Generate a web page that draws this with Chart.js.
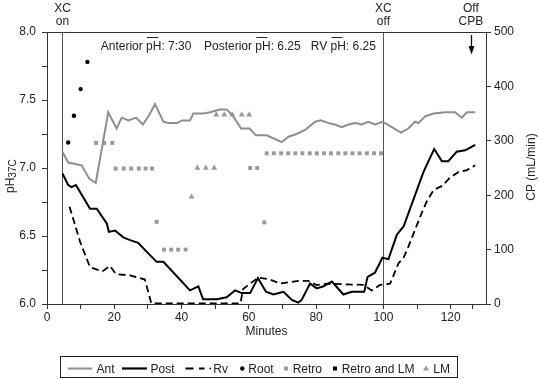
<!DOCTYPE html>
<html><head><meta charset="utf-8">
<script src="https://cdn.jsdelivr.net/npm/chart.js@4.4.0/dist/chart.umd.min.js"></script>
<style>html,body{margin:0;padding:0;background:#fff}#wrap{width:538px;height:379px}</style>
</head><body><div id="wrap"><canvas id="c" width="538" height="379"></canvas></div>
<script>
// ---- data (minutes, pH) ----
const antTimes = [4.6, 6.3, 10.3, 12.6, 14.5, 18.2, 20.7, 22.2, 24.2, 26.5, 28.5, 30.4, 32.1, 34.6, 36.1, 38.6, 40.1, 42.5, 43.5, 46.5, 48.5, 51.4, 53.4, 55.1, 57.7, 60.2, 62.1, 65.3, 69.8, 71.8, 74.2, 76.7, 79.7, 81.4, 83.7, 85.6, 87.6, 89.6, 91.6, 93.6, 95.5, 97.5, 99.8, 102.5, 105.2, 107.4, 109.4, 110.4, 112.4, 114.9, 118.3, 121.3, 123.3, 124.8, 127.3];
const antPH = [7.12, 7.04, 7.02, 6.92, 6.89, 7.41, 7.29, 7.37, 7.35, 7.37, 7.32, 7.39, 7.47, 7.34, 7.33, 7.33, 7.35, 7.35, 7.40, 7.40, 7.41, 7.43, 7.43, 7.39, 7.29, 7.29, 7.24, 7.24, 7.19, 7.23, 7.25, 7.28, 7.34, 7.35, 7.33, 7.32, 7.30, 7.32, 7.33, 7.32, 7.34, 7.32, 7.34, 7.30, 7.26, 7.29, 7.34, 7.33, 7.38, 7.40, 7.41, 7.41, 7.37, 7.41, 7.41];

const postTimes = [4.6, 6.3, 7.3, 8.6, 12.8, 14.8, 17.8, 18.4, 20.2, 22.7, 24.7, 27.1, 29.6, 32.6, 34.6, 39.5, 42.5, 45, 46.4, 50.5, 53.4, 55.9, 57.9, 60.4, 62.7, 65.1, 67.3, 70.3, 72.8, 74.7, 75.7, 78.2, 80.2, 82.2, 84.7, 88.1, 90.6, 94.3, 95.3, 97.5, 99.7, 101.5, 104, 106, 111.9, 113.4, 115.1, 117.4, 119.3, 121.8, 124.3, 127.3];
const postPH = [6.96, 6.875, 6.86, 6.875, 6.70, 6.70, 6.59, 6.53, 6.54, 6.49, 6.47, 6.45, 6.385, 6.31, 6.31, 6.18, 6.10, 6.13, 6.035, 6.035, 6.05, 6.10, 6.08, 6.08, 6.19, 6.09, 6.07, 6.09, 6.03, 6.01, 6.03, 6.15, 6.115, 6.13, 6.165, 6.07, 6.09, 6.09, 6.20, 6.23, 6.34, 6.33, 6.51, 6.57, 6.97, 7.05, 7.14, 7.05, 7.05, 7.12, 7.13, 7.17];

const rvTimes = [6.7, 9.8, 12.8, 16.5, 18.7, 20.5, 24.7, 29.1, 31.0, 45, 57.5, 58.3, 62.8, 66.3, 69.3, 74.7, 77.7, 80.2, 83.2, 94.1, 96.5, 99, 102, 104.5, 106, 107.4, 111.4, 113, 115, 117.6, 119.8, 122.3, 124.8, 127.3];
const rvPH = [6.715, 6.46, 6.27, 6.24, 6.28, 6.22, 6.21, 6.18, 6.005, 6.005, 6.005, 6.11, 6.195, 6.18, 6.15, 6.17, 6.17, 6.14, 6.15, 6.14, 6.10, 6.14, 6.15, 6.30, 6.34, 6.42, 6.67, 6.76, 6.84, 6.87, 6.93, 6.97, 6.985, 7.02];

// ---- data (minutes, CP mL/min) ----
const rootTimes = [6.3, 8.0, 10.0, 12.0];
const rootCP = [297, 346, 395, 445];

const retroTimes = [14.6, 17.0, 19.4, 20.4, 22.8, 25.0, 27.3, 29.3, 31.2, 32.6, 34.8, 36.9, 39.0, 41.2, 60.4, 62.5, 64.6, 65.3, 67.4, 69.6, 71.7, 73.8, 75.9, 78.1, 80.2, 82.3, 84.4, 86.6, 88.7, 90.8, 92.9, 95.1, 97.2, 99.3];
const retroCP = [296, 296, 296, 249, 249, 249, 249, 249, 249, 151, 100, 100, 100, 100, 250, 250, 150, 277, 277, 277, 277, 277, 277, 277, 277, 277, 277, 277, 277, 277, 277, 277, 277, 277];

const retroLMTimes = [];
const retroLMCP = [];

const lmTimes = [43.0, 44.7, 47.2, 49.7, 50.3, 52.7, 55.1, 57.9, 60.1];
const lmCP = [197, 250, 250, 250, 348, 348, 348, 348, 348];

// ---- axes / annotations ----
const xTickValues = [0, 10, 20, 30, 40, 50, 60, 70, 80, 90, 100, 110, 120, 126.5];
const xTickLabels = ['0', '', '20', '', '40', '', '60', '', '80', '', '100', '', '120', ''];
const yTickValues = [6.0, 6.25, 6.5, 6.75, 7.0, 7.25, 7.5, 7.75, 8.0];
const yTickLabels = ['6.0', '', '6.5', '', '7.0', '', '7.5', '', '8.0'];
const y2TickValues = [0, 100, 200, 300, 400, 500];
const y2TickLabels = ['0', '100', '200', '300', '400', '500'];

const eventTimes = [4.6, 100, 126];
const eventLabels = [['XC', 'on'], ['XC', 'off'], ['Off', 'CPB']];
const meanLabels = [['Anterior ', 'pH', ': 7:30'], ['Posterior ', 'pH', ': 6.25'], ['RV ', 'pH', ': 6.25']];

const FONT = "'Liberation Sans', Arial, Helvetica, sans-serif";
Chart.defaults.font.family = FONT;
Chart.defaults.font.size = 12;
Chart.defaults.color = '#222';

const zip = (xs, ys) => xs.map((x, i) => ({x, y: ys[i]}));
const GRAY_LINE = '#8e8e8e';
const GRAY_PT = '#9a9a9a';

const overlay = {
  id: 'overlay',
  beforeDatasetsDraw(chart) {
    const {ctx, chartArea: a, scales: {x}} = chart;
    ctx.save();
    ctx.strokeStyle = '#555';
    ctx.lineWidth = 1;
    for (let i = 0; i < 2; i++) {
      const px = Math.round(x.getPixelForValue(eventTimes[i])) + 0.5;
      ctx.beginPath(); ctx.moveTo(px, a.top); ctx.lineTo(px, a.bottom); ctx.stroke();
    }
    ctx.restore();
  },
  afterDraw(chart) {
    const {ctx, chartArea: a, scales: {x}} = chart;
    ctx.save();
    // top frame line
    ctx.strokeStyle = '#333'; ctx.lineWidth = 1;
    ctx.beginPath(); ctx.moveTo(a.left, a.top + 0.5); ctx.lineTo(a.right, a.top + 0.5); ctx.stroke();

    ctx.fillStyle = '#222';
    ctx.font = '12px ' + FONT;
    // event labels
    ctx.textAlign = 'center'; ctx.textBaseline = 'alphabetic';
    eventTimes.forEach((t, i) => {
      const px = x.getPixelForValue(t);
      ctx.fillText(eventLabels[i][0], px, 12);
      ctx.fillText(eventLabels[i][1], px, 25);
    });
    // Off CPB arrow
    const ax = Math.round(x.getPixelForValue(eventTimes[2])) + 0.5;
    ctx.strokeStyle = '#111'; ctx.lineWidth = 1.3;
    ctx.beginPath(); ctx.moveTo(ax, 35); ctx.lineTo(ax, 48); ctx.stroke();
    ctx.fillStyle = '#111';
    ctx.beginPath(); ctx.moveTo(ax - 3, 46); ctx.lineTo(ax + 3, 46); ctx.lineTo(ax, 54.5); ctx.closePath(); ctx.fill();

    // mean pH annotation with overlines
    ctx.fillStyle = '#222';
    ctx.textAlign = 'left';
    const starts = [100.7, 204, 310.7];
    meanLabels.forEach((parts, i) => {
      let px = starts[i];
      ctx.fillText(parts[0], px, 50);
      px += ctx.measureText(parts[0]).width;
      ctx.fillText(parts[1], px, 50);
      ctx.strokeStyle = '#222'; ctx.lineWidth = 1;
      ctx.beginPath(); ctx.moveTo(px + 1, 37.5); ctx.lineTo(px + 12, 37.5); ctx.stroke();
      px += ctx.measureText(parts[1]).width;
      ctx.fillText(parts[2], px, 50);
    });

    // x title
    ctx.textAlign = 'center';
    ctx.fillText('Minutes', (a.left + a.right) / 2, 335);

    // left title pH37C (rotated)
    ctx.save();
    ctx.translate(13.5, 193);
    ctx.rotate(-Math.PI / 2);
    ctx.textAlign = 'left';
    ctx.font = '12px ' + FONT;
    ctx.fillText('pH', 0, 0);
    const wp = ctx.measureText('pH').width;
    ctx.font = '10px ' + FONT;
    ctx.fillText('37C', wp, 2);
    ctx.restore();

    // right title
    ctx.save();
    ctx.translate(535, 167);
    ctx.rotate(-Math.PI / 2);
    ctx.textAlign = 'center';
    ctx.font = '12px ' + FONT;
    ctx.fillText('CP (mL/min)', 0, 0);
    ctx.restore();

    // legend box
    ctx.strokeStyle = '#222'; ctx.lineWidth = 1;
    ctx.strokeRect(60.5, 356.5, 397, 21);
    const ds = chart.data.datasets;
    const sy = 368.5, ty = 373;
    const textX = [96.5, 150.5, 213.3, 248.3, 292.7, 341.7, 433.3];
    ctx.textAlign = 'left'; ctx.font = '12px ' + FONT; ctx.fillStyle = '#222';
    ds.forEach((d, i) => ctx.fillText(d.label, textX[i], ty));
    // symbols
    ctx.lineCap = 'butt';
    ctx.strokeStyle = GRAY_LINE; ctx.lineWidth = 2;
    ctx.beginPath(); ctx.moveTo(68, sy); ctx.lineTo(92, sy); ctx.stroke();
    ctx.strokeStyle = '#000'; ctx.lineWidth = 2.2;
    ctx.beginPath(); ctx.moveTo(122, sy); ctx.lineTo(147, sy); ctx.stroke();
    ctx.lineWidth = 2;
    ctx.beginPath(); ctx.moveTo(185.5, sy); ctx.lineTo(193.5, sy); ctx.moveTo(199, sy); ctx.lineTo(204.5, sy); ctx.stroke();
    ctx.fillStyle = '#000';
    ctx.fillRect(209.5, sy - 0.8, 1.5, 1.6);
    ctx.beginPath(); ctx.arc(242.3, sy, 2.2, 0, Math.PI * 2); ctx.fill();
    ctx.fillStyle = GRAY_PT; ctx.fillRect(284, sy - 2, 4, 4);
    ctx.fillStyle = '#000'; ctx.fillRect(333, sy - 2, 4, 4);
    ctx.fillStyle = GRAY_PT;
    ctx.beginPath(); ctx.moveTo(426, sy - 3); ctx.lineTo(429, sy + 2); ctx.lineTo(423, sy + 2); ctx.closePath(); ctx.fill();
    ctx.restore();
  }
};

const tickGrid = {display: true, drawOnChartArea: false, drawTicks: true, tickLength: 5, color: '#333', lineWidth: 1};
const axisBorder = {display: true, color: '#333', width: 1};

new Chart(document.getElementById('c'), {
  type: 'scatter',
  data: {
    datasets: [
      {label: 'Ant', data: zip(antTimes, antPH), yAxisID: 'y', showLine: true, borderColor: GRAY_LINE, borderWidth: 2, pointRadius: 0, tension: 0},
      {label: 'Post', data: zip(postTimes, postPH), yAxisID: 'y', showLine: true, borderColor: '#000', borderWidth: 2, pointRadius: 0, tension: 0},
      {label: 'Rv', data: zip(rvTimes, rvPH), yAxisID: 'y', showLine: true, borderColor: '#000', borderWidth: 1.8, borderDash: [7, 4], pointRadius: 0, tension: 0},
      {label: 'Root', data: zip(rootTimes, rootCP), yAxisID: 'y2', showLine: false, pointStyle: 'circle', pointRadius: 2.2, backgroundColor: '#000', borderWidth: 0},
      {label: 'Retro', data: zip(retroTimes, retroCP), yAxisID: 'y2', showLine: false, pointStyle: 'rect', pointRadius: 2.8, backgroundColor: GRAY_PT, borderWidth: 0},
      {label: 'Retro and LM', data: zip(retroLMTimes, retroLMCP), yAxisID: 'y2', showLine: false, pointStyle: 'rect', pointRadius: 2.8, backgroundColor: '#000', borderWidth: 0},
      {label: 'LM', data: zip(lmTimes, lmCP), yAxisID: 'y2', showLine: false, pointStyle: 'triangle', pointRadius: 3.4, backgroundColor: GRAY_PT, borderWidth: 0}
    ]
  },
  options: {
    responsive: false,
    animation: false,
    devicePixelRatio: 1,
    layout: {padding: {top: 32, left: 0, right: 0, bottom: 0}},
    plugins: {legend: {display: false}, tooltip: {enabled: false}},
    scales: {
      x: {
        type: 'linear', min: 0, max: 130.5,
        afterBuildTicks: s => { s.ticks = xTickValues.map(v => ({value: v})); },
        afterFit: s => { s.height = 75; },
        ticks: {autoSkip: false, maxRotation: 0, padding: 1, color: '#222', font: {size: 12}, callback: (v, i) => xTickLabels[i]},
        grid: tickGrid, border: axisBorder
      },
      y: {
        type: 'linear', position: 'left', min: 6, max: 8,
        afterBuildTicks: s => { s.ticks = yTickValues.map(v => ({value: v})); },
        afterFit: s => { s.width = 47; },
        ticks: {autoSkip: false, padding: 6, color: '#222', font: {size: 12}, callback: (v, i) => yTickLabels[i]},
        grid: tickGrid, border: axisBorder
      },
      y2: {
        type: 'linear', position: 'right', min: 0, max: 500,
        afterBuildTicks: s => { s.ticks = y2TickValues.map(v => ({value: v})); },
        afterFit: s => { s.width = 52; },
        ticks: {autoSkip: false, padding: 3, color: '#222', font: {size: 12}, callback: (v, i) => y2TickLabels[i]},
        grid: tickGrid, border: axisBorder
      }
    }
  },
  plugins: [overlay]
});
</script>
</body></html>
